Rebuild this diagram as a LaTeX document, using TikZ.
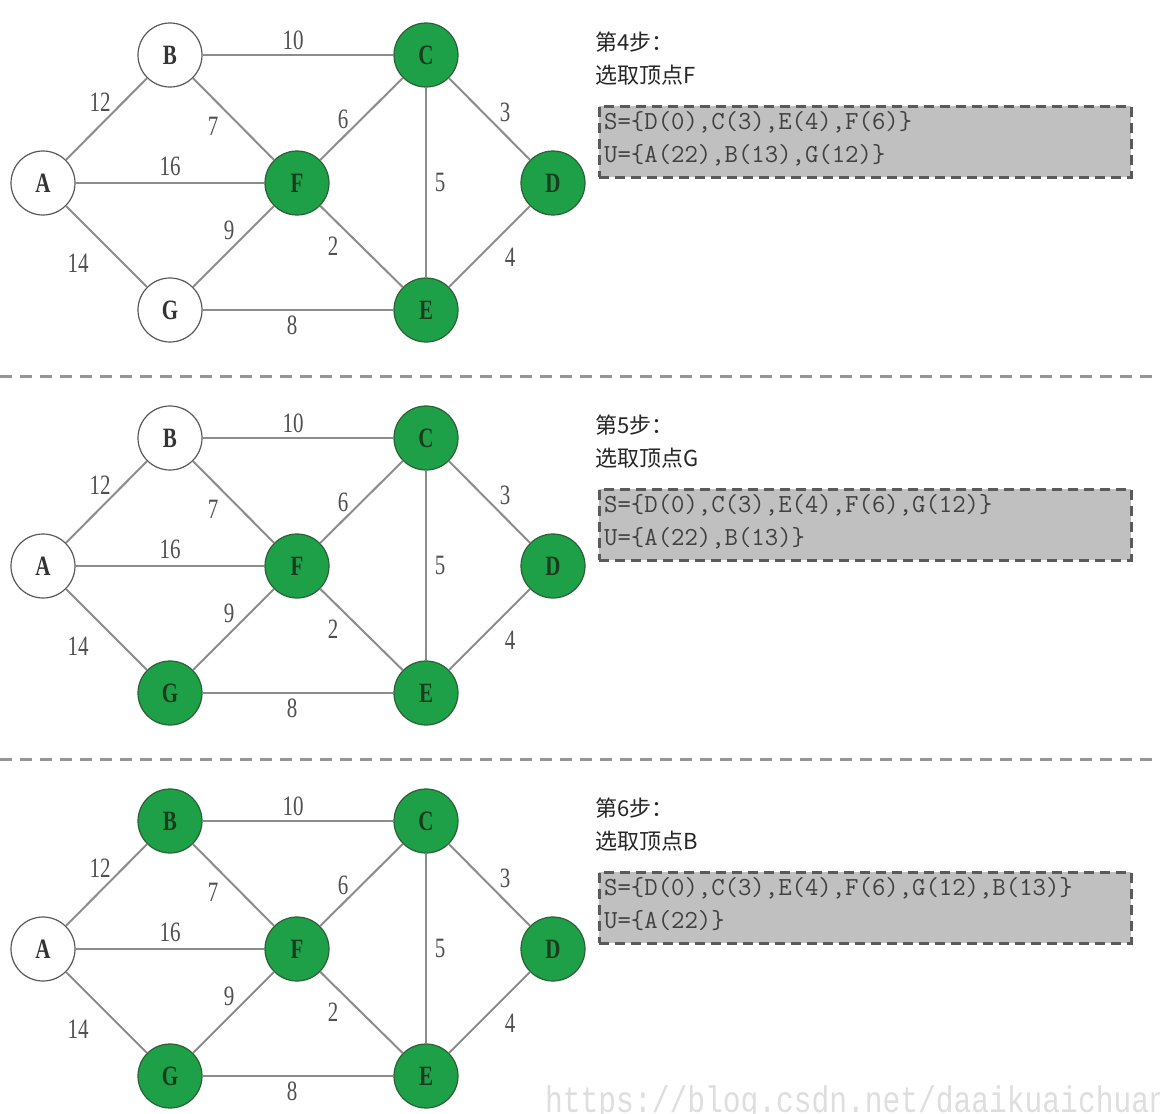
\documentclass[tikz,border=0pt]{standalone}
\usepackage{fontspec}
\usetikzlibrary{backgrounds}
\newfontfamily\cjk{Noto Sans CJK SC}
\newfontfamily\serifc[FakeStretch=0.75]{Liberation Serif}
\newfontfamily\monoc[FakeStretch=0.8]{Liberation Mono}
\definecolor{nodegreen}{RGB}{30,160,72}
\definecolor{greenborder}{RGB}{45,95,55}
\definecolor{greentext}{RGB}{25,60,30}
\definecolor{edgegray}{RGB}{140,140,140}
\definecolor{labelgray}{RGB}{80,80,80}
\definecolor{boxgray}{RGB}{192,192,192}
\definecolor{boxborder}{RGB}{90,90,90}
\definecolor{sepgray}{RGB}{150,150,150}
\tikzset{
  vwhite/.style={circle, draw=black!65, line width=1.2pt, fill=white,
    minimum size=64pt, inner sep=0pt,
    font=\serifc\bfseries\fontsize{28}{30}\selectfont, text=black!80},
  vgreen/.style={vwhite, fill=nodegreen, draw=greenborder, text=greentext},
  link/.style={draw=edgegray, line width=2pt},
  wlabel/.style={font=\serifc\fontsize{28}{30}\selectfont, text=labelgray, inner sep=0pt},
  steptext/.style={font=\cjk\fontsize{22}{24}\selectfont, text=black!85, anchor=west, inner sep=0pt},
  setbox/.style={rectangle, fill=boxgray, draw=boxborder, line width=2.5pt,
    dash pattern=on 10pt off 6pt, minimum width=532pt, minimum height=71pt,
    anchor=north west, inner sep=0pt},
  settext/.style={font=\ttfamily\fontsize{26}{28}\selectfont, text=black!75, anchor=west, inner sep=0pt},
  separator/.style={draw=sepgray, line width=3pt, dash pattern=on 12pt off 8pt}
}
% #1 suffix, #2 y offset, #3 style of B, #4 style of G, #5 step number, #6 vertex, #7 S set, #8 U set
\newcommand\graphpanel[8]{%
  \begin{scope}[yshift=-#2pt]
    \node[vwhite] (A#1) at (43,183) {A};
    \node[#3] (B#1) at (170,55) {B};
    \node[vgreen] (C#1) at (426,55) {C};
    \node[vgreen] (D#1) at (553,183) {D};
    \node[vgreen] (E#1) at (426,310) {E};
    \node[vgreen] (F#1) at (297,183) {F};
    \node[#4] (G#1) at (170,310) {G};
    \draw[link] (A#1) -- (B#1);
    \draw[link] (A#1) -- (F#1);
    \draw[link] (A#1) -- (G#1);
    \draw[link] (B#1) -- (C#1);
    \draw[link] (B#1) -- (F#1);
    \draw[link] (C#1) -- (F#1);
    \draw[link] (C#1) -- (D#1);
    \draw[link] (C#1) -- (E#1);
    \draw[link] (F#1) -- (E#1);
    \draw[link] (F#1) -- (G#1);
    \draw[link] (G#1) -- (E#1);
    \draw[link] (E#1) -- (D#1);
    \node[wlabel] (lbc#1) at (293,40) {10};
    \node[wlabel] (lab#1) at (100,102) {12};
    \node[wlabel] (lbf#1) at (213,126) {7};
    \node[wlabel] (lcf#1) at (343,119) {6};
    \node[wlabel] (lcd#1) at (505,112) {3};
    \node[wlabel] (laf#1) at (170,166) {16};
    \node[wlabel] (lce#1) at (440,182) {5};
    \node[wlabel] (lfg#1) at (229,230) {9};
    \node[wlabel] (lfe#1) at (333,246) {2};
    \node[wlabel] (led#1) at (510,257) {4};
    \node[wlabel] (lag#1) at (78,263) {14};
    \node[wlabel] (lge#1) at (292,325) {8};
    \node[steptext] (st#1) at (595,42) {第#5步：};
    \node[steptext] (sv#1) at (595,75) {选取顶点#6};
    \node[setbox] (box#1) at (598,105) {};
    \node[settext] (ss#1) at (604,122) {#7};
    \node[settext] (su#1) at (604,155) {#8};
  \end{scope}%
}
\begin{document}
\begin{tikzpicture}[x=1pt,y=-1pt]
  \useasboundingbox (0,0) rectangle (1160,1114);
  \fill[white] (0,0) rectangle (1160,1114);
  \graphpanel{a}{0}{vwhite}{vwhite}{4}{F}{S=\{D(0),C(3),E(4),F(6)\}}{U=\{A(22),B(13),G(12)\}}
  \graphpanel{b}{383}{vwhite}{vgreen}{5}{G}{S=\{D(0),C(3),E(4),F(6),G(12)\}}{U=\{A(22),B(13)\}}
  \graphpanel{c}{766}{vgreen}{vgreen}{6}{B}{S=\{D(0),C(3),E(4),F(6),G(12),B(13)\}}{U=\{A(22)\}}
  \coordinate (s1l) at (0,376);
  \coordinate (s1r) at (1160,376);
  \coordinate (s2l) at (0,759);
  \coordinate (s2r) at (1160,759);
  \draw[separator] (s1l) -- (s1r);
  \draw[separator] (s2l) -- (s2r);
  \node[anchor=base west, inner sep=0pt, font=\monoc\fontsize{37}{40}\selectfont, text=black!13] (wm) at (545,1112) {https://blog.csdn.net/daaikuaichuan};
\end{tikzpicture}
\end{document}
